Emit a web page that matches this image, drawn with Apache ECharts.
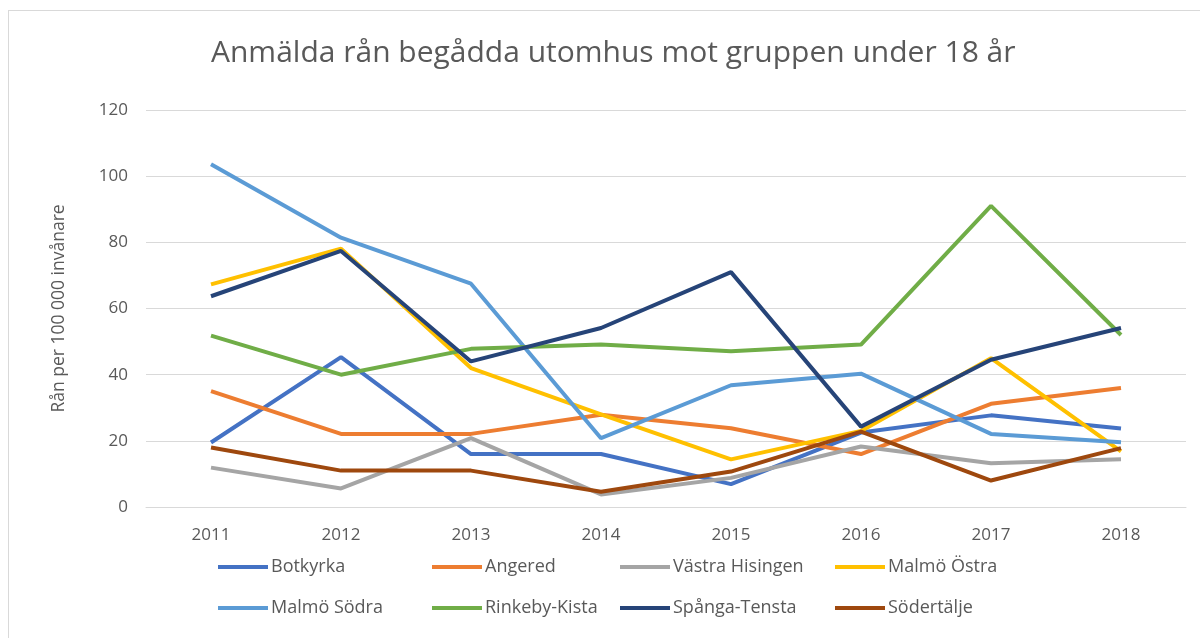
<!DOCTYPE html>
<html>
<head>
<meta charset="utf-8">
<script src="https://cdn.jsdelivr.net/npm/echarts@6/dist/echarts.min.js"></script>
<style>
    html, body { margin: 0; padding: 0; background: #fff; }
    #chart { position: absolute; left: 0; top: 0; width: 1200px; height: 638px; }
    #frame { position: absolute; left: 8px; top: 10px; width: 1200px; height: 640px; border: 1px solid #d9d9d9; box-sizing: border-box; }
</style>
</head>
<body>
<div id="frame"></div>
<div id="chart"></div>
<script>
    var years = ['2011', '2012', '2013', '2014', '2015', '2016', '2017', '2018'];

    // Rån per 100 000 invånare
    var botkyrka = [19.5, 45.3, 16, 16, 6.9, 22.5, 27.7, 23.7];
    var angered = [35, 22.1, 22.1, 27.9, 23.8, 16, 31.2, 36];
    var vastraHisingen = [11.9, 5.6, 20.8, 3.8, 8.8, 18.3, 13.2, 14.4];
    var malmoOstra = [67.3, 78.1, 42, 28, 14.4, 23, 45, 16.8];
    var malmoSodra = [103.6, 81.4, 67.5, 20.8, 36.8, 40.3, 22.1, 19.6];
    var rinkebyKista = [51.8, 40, 47.8, 49.1, 47.1, 49.1, 91, 52];
    var spangaTensta = [63.7, 77.4, 44, 54.1, 71, 24.3, 44.5, 54.1];
    var sodertalje = [18, 11, 11, 4.6, 10.7, 22.8, 8, 17.8];

    var names = ['Botkyrka', 'Angered', 'Västra Hisingen', 'Malmö Östra',
        'Malmö Södra', 'Rinkeby-Kista', 'Spånga-Tensta', 'Södertälje'];
    var values = [botkyrka, angered, vastraHisingen, malmoOstra,
        malmoSodra, rinkebyKista, spangaTensta, sodertalje];
    var colors = ['#4472C4', '#ED7D31', '#A5A5A5', '#FFC000',
        '#5B9BD5', '#70AD47', '#264478', '#9E480E'];

    var font = '"Open Sans", sans-serif';
    var textColor = '#595959';

    // legend columns (Excel-style grid: 4 per row)
    var legendLeft = [218, 432, 620, 835];
    var legendTop = [558, 599];

    var Chart = echarts.init(document.getElementById('chart'));
    Chart.setOption({
        color: colors,
        animation: false,
        title: {
            text: 'Anmälda rån begådda utomhus mot gruppen under 18 år',
            left: 206,
            top: 33,
            textStyle: {
                color: textColor,
                fontFamily: font,
                fontWeight: 'normal',
                fontSize: 30
            }
        },
        legend: names.map(function (name, i) {
            return {
                data: [name],
                left: legendLeft[i % 4],
                top: legendTop[Math.floor(i / 4)],
                icon: 'rect',
                itemWidth: 50,
                itemHeight: 4,
                itemGap: 0,
                padding: 0,
                textStyle: {
                    color: textColor,
                    fontFamily: font,
                    fontSize: 18,
                    padding: [0, 0, 0, -2]
                }
            };
        }),
        grid: {
            left: 146,
            right: 14,
            top: 110,
            bottom: 131,
            containLabel: false
        },
        xAxis: {
            type: 'category',
            data: years,
            boundaryGap: true,
            axisLine: { lineStyle: { color: '#d9d9d9', width: 1 } },
            axisTick: { show: false },
            axisLabel: {
                color: textColor,
                fontFamily: font,
                fontSize: 17,
                margin: 20
            }
        },
        yAxis: {
            type: 'value',
            min: 0,
            max: 120,
            interval: 20,
            name: 'Rån per 100 000 invånare',
            nameLocation: 'middle',
            nameGap: 78,
            nameTextStyle: {
                color: textColor,
                fontFamily: font,
                fontSize: 17.5
            },
            axisLine: { show: false },
            axisTick: { show: false },
            splitLine: { lineStyle: { color: '#d9d9d9', width: 1 } },
            axisLabel: {
                color: textColor,
                fontFamily: font,
                fontSize: 17,
                margin: 18
            }
        },
        series: names.map(function (name, i) {
            return {
                name: name,
                type: 'line',
                data: values[i],
                symbol: 'none',
                lineStyle: { width: 4, color: colors[i] },
                itemStyle: { color: colors[i] }
            };
        })
    });
</script>
</body>
</html>
